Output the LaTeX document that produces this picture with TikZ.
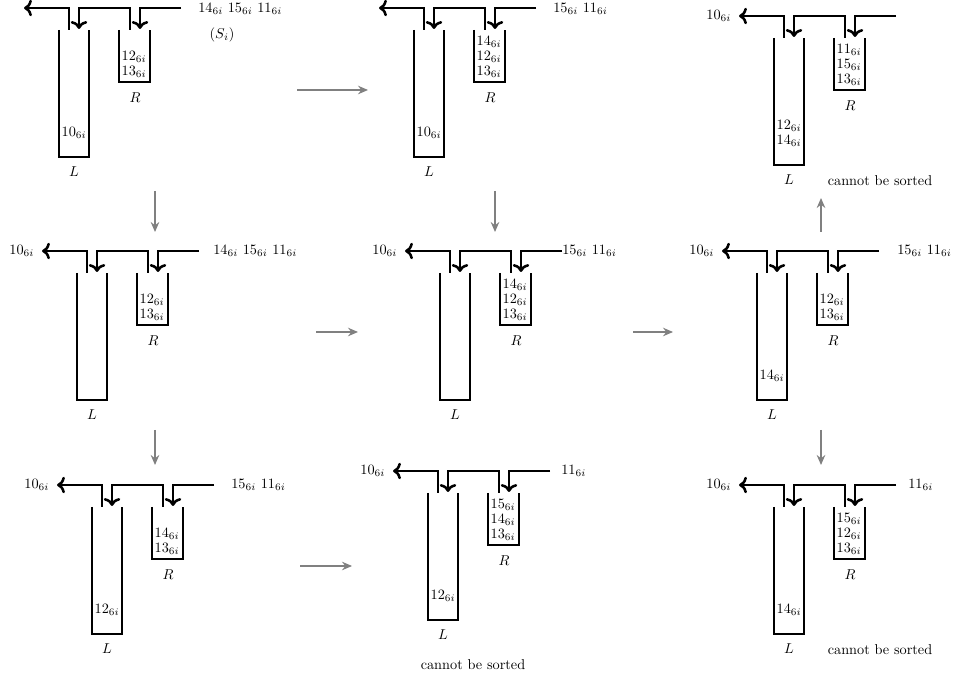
\documentclass[tikz,border=0pt]{standalone}
\usetikzlibrary{arrows.meta}
\tikzset{track/.style = {line width=1.8pt}}
\tikzset{wall/.style = {line width=1.8pt, line join=miter}}
\tikzset{move/.style = {draw=gray, line width=1pt, -{Stealth[length=7pt,width=6pt]}}}
\tikzset{queue/.style = {anchor=west, inner sep=0pt}}
\tikzset{outcar/.style = {left, xshift=-2pt}}

% one shunting yard: left end of L at (#1,#2), number #3
\newcommand{\drawyard}[3]{%
  \begin{scope}[shift={(#1,#2)}]
    \coordinate (out#3) at (-35,0);
    \coordinate (in#3) at (122,0);
    \draw [track, ->] (10,22) -- (10,0) -- (out#3);
    \draw [track, ->] (71,22) -- (71,0) -- (20,0) -- (20,21);
    \draw [track, ->] (in#3) -- (81,0) -- (81,21);
    \draw [wall] (0,22) |- (30,149) -- (30,22);
    \draw [wall] (60,22) |- (91,74) -- (91,22);
    \node (labL#3) at (15,164) {$L$};
    \node (labR#3) at (76,90) {$R$};
  \end{scope}}

\begin{document}
\begin{tikzpicture}[x=0.7pt, y=-0.7pt]
    \useasboundingbox (0,0) rectangle (955,678);

    \drawyard{59}{8}{1}
    \drawyard{414}{8}{2}
    \drawyard{774}{16}{3}
    \drawyard{77}{251}{4}
    \drawyard{440}{251}{5}
    \drawyard{757}{251}{6}
    \drawyard{92}{485}{7}
    \drawyard{428}{471}{8}
    \drawyard{774}{485}{9}

    % cars in the sidings, bottom first
    \node (l1-1) at (74,133) {$10_{6i}$};
    \foreach \v [count=\k] in {13,12}
      \node (r1-\k) at (134,{87-15*\k}) {$\v_{6i}$};
    \node (l2-1) at (429,133) {$10_{6i}$};
    \foreach \v [count=\k] in {13,12,14}
      \node (r2-\k) at (489,{87-15*\k}) {$\v_{6i}$};
    \foreach \v [count=\k] in {14,12}
      \node (l3-\k) at (789,{156-15*\k}) {$\v_{6i}$};
    \foreach \v [count=\k] in {13,15,11}
      \node (r3-\k) at (849,{95-15*\k}) {$\v_{6i}$};
    \foreach \v [count=\k] in {13,12}
      \node (r4-\k) at (152,{330-15*\k}) {$\v_{6i}$};
    \foreach \v [count=\k] in {13,12,14}
      \node (r5-\k) at (515,{330-15*\k}) {$\v_{6i}$};
    \node (l6-1) at (772,376) {$14_{6i}$};
    \foreach \v [count=\k] in {13,12}
      \node (r6-\k) at (832,{330-15*\k}) {$\v_{6i}$};
    \node (l7-1) at (107,610) {$12_{6i}$};
    \foreach \v [count=\k] in {13,14}
      \node (r7-\k) at (167,{564-15*\k}) {$\v_{6i}$};
    \node (l8-1) at (443,596) {$12_{6i}$};
    \foreach \v [count=\k] in {13,14,15}
      \node (r8-\k) at (503,{550-15*\k}) {$\v_{6i}$};
    \node (l9-1) at (789,610) {$14_{6i}$};
    \foreach \v [count=\k] in {13,12,15}
      \node (r9-\k) at (849,{564-15*\k}) {$\v_{6i}$};

    % incoming and outgoing cars
    \node [queue] (q1) at (198,9) {$14_{6i}$ $15_{6i}$ $11_{6i}$};
    \node (s1) at (222,35) {$(S_i)$};
    \node [queue] (q2) at (553,9) {$15_{6i}$ $11_{6i}$};
    \node [queue] (q4) at (213,251) {$14_{6i}$ $15_{6i}$ $11_{6i}$};
    \node [queue] (q5) at (562,251) {$15_{6i}$ $11_{6i}$};
    \node [queue] (q6) at (897,251) {$15_{6i}$ $11_{6i}$};
    \node [queue] (q7) at (231,485) {$15_{6i}$ $11_{6i}$};
    \node [queue] (q8) at (561,471) {$11_{6i}$};
    \node [queue] (q9) at (908,485) {$11_{6i}$};
    \foreach \n in {3,...,9}
      \node [outcar] (o\n) at (out\n) {$10_{6i}$};

    \node (fail3) at (880,181) {cannot be sorted};
    \node (fail8) at (473,665) {cannot be sorted};
    \node (fail9) at (880,650) {cannot be sorted};

    % moves between the states
    \coordinate (m12a) at (297,90);  \coordinate (m12b) at (368,90);
    \coordinate (m14a) at (155,191); \coordinate (m14b) at (155,232);
    \coordinate (m25a) at (495,191); \coordinate (m25b) at (495,232);
    \coordinate (m45a) at (316,332); \coordinate (m45b) at (358,332);
    \coordinate (m56a) at (633,332); \coordinate (m56b) at (673,332);
    \coordinate (m63a) at (821,232); \coordinate (m63b) at (821,198);
    \coordinate (m47a) at (155,430); \coordinate (m47b) at (155,465);
    \coordinate (m69a) at (821,430); \coordinate (m69b) at (821,465);
    \coordinate (m78a) at (300,566); \coordinate (m78b) at (352,566);
    \foreach \s in {12,14,25,45,56,63,47,69,78}
      \draw [move] (m\s a) -- (m\s b);
\end{tikzpicture}
\end{document}
